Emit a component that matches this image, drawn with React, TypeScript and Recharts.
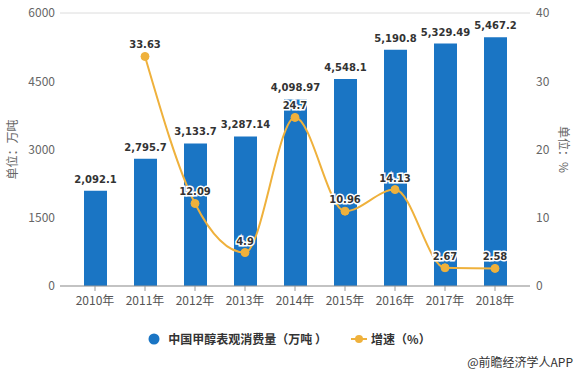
import React from "react"
import { ComposedChart, Bar, Line, XAxis, YAxis, CartesianGrid, Legend, LabelList } from "recharts"

const years = ["2010年", "2011年", "2012年", "2013年", "2014年", "2015年", "2016年", "2017年", "2018年"]
const consumption = [2092.1, 2795.7, 3133.7, 3287.14, 4098.97, 4548.1, 5190.8, 5329.49, 5467.2]
const growth: (number | null)[] = [null, 33.63, 12.09, 4.9, 24.7, 10.96, 14.13, 2.67, 2.58]
const leftTicks = [0, 1500, 3000, 4500, 6000]
const rightTicks = [0, 10, 20, 30, 40]

const data = years.map((year, i) => ({ year, consumption: consumption[i], growth: growth[i] }))

const BAR_COLOR = "#1a75c4"
const LINE_COLOR = "#efb13c"
const FONT = "'Noto Sans CJK SC', 'Noto Sans', sans-serif"
const LABEL_FONT = "'DejaVu Sans', sans-serif"

function LegendContent() {
  return (
    <div
      style={{
        display: "flex",
        justifyContent: "center",
        alignItems: "center",
        fontFamily: FONT,
        fontSize: 12,
        fontWeight: 700,
        color: "#333",
      }}
    >
      <svg width={12} height={12} style={{ marginRight: 8 }}>
        <circle cx={6} cy={6} r={5.5} fill={BAR_COLOR} />
      </svg>
      <span>中国甲醇表观消费量（万吨 ）</span>
      <svg width={16} height={12} style={{ marginLeft: 24, marginRight: 4 }}>
        <line x1={0} y1={6} x2={16} y2={6} stroke={LINE_COLOR} strokeWidth={2} />
        <circle cx={8} cy={6} r={4} fill={LINE_COLOR} />
      </svg>
      <span>增速（%）</span>
    </div>
  )
}

const fmt = (v: any) => (v == null ? "" : Number(v).toLocaleString("en-US", { maximumFractionDigits: 2 }))

export default function App() {
  return (
    <div style={{ position: "absolute", left: 0, top: 0, width: 579, height: 369, background: "#fff" }}>
      <ComposedChart width={579} height={369} data={data} margin={{ top: 13, right: 0, bottom: 53, left: 0 }}>
        <CartesianGrid vertical={false} stroke="#dcdcdc" />
        <XAxis
          dataKey="year"
          padding={{ left: 10, right: 10 }}
          height={30}
          tickSize={5}
          tickMargin={5}
          stroke="#999"
          tick={{ fill: "#555", fontSize: 12, fontFamily: FONT }}
          interval={0}
        />
        <YAxis
          yAxisId="left"
          width={60}
          domain={[0, 6000]}
          ticks={leftTicks}
          axisLine={false}
          tickLine={false}
          tickSize={0}
          tickMargin={5}
          tick={{ fill: "#666", fontSize: 12, fontFamily: FONT }}
          label={{ value: "单位：万吨", angle: -90, position: "center", dx: -17, fill: "#666", fontSize: 12, fontFamily: FONT }}
        />
        <YAxis
          yAxisId="right"
          orientation="right"
          width={49}
          domain={[0, 40]}
          ticks={rightTicks}
          axisLine={false}
          tickLine={false}
          tickSize={0}
          tickMargin={6}
          tick={{ fill: "#666", fontSize: 12, fontFamily: FONT, textAnchor: "start" }}
          label={{ value: "单位：%", angle: 90, position: "center", dx: 8.5, fill: "#666", fontSize: 12, fontFamily: FONT }}
        />
        <Legend
          layout="horizontal"
          verticalAlign="middle"
          align="center"
          content={<LegendContent />}
          wrapperStyle={{ position: "absolute", top: 330, left: 0, width: 579 }}
        />
        <Bar yAxisId="left" dataKey="consumption" fill={BAR_COLOR} barSize={23} isAnimationActive={false}>
          <LabelList
            dataKey="consumption"
            position="top"
            offset={8}
            formatter={fmt}
            fill="#333"
            fontSize={10}
            fontWeight={700}
            fontFamily={LABEL_FONT}
          />
        </Bar>
        <Line
          yAxisId="right"
          dataKey="growth"
          type="monotone"
          stroke={LINE_COLOR}
          strokeWidth={2}
          dot={{ r: 4, fill: LINE_COLOR, stroke: LINE_COLOR, strokeWidth: 1 }}
          connectNulls={false}
          isAnimationActive={false}
        >
          <LabelList
            dataKey="growth"
            position="top"
            offset={8}
            formatter={fmt}
            fill="#333"
            stroke="#fff"
            strokeWidth={3}
            paintOrder="stroke"
            fontSize={10}
            fontWeight={700}
            fontFamily={LABEL_FONT}
          />
        </Line>
      </ComposedChart>
      <div
        style={{
          position: "absolute",
          right: 6,
          top: 353,
          fontFamily: FONT,
          fontSize: 12,
          color: "#333",
        }}
      >
        @前瞻经济学人APP
      </div>
    </div>
  )
}
